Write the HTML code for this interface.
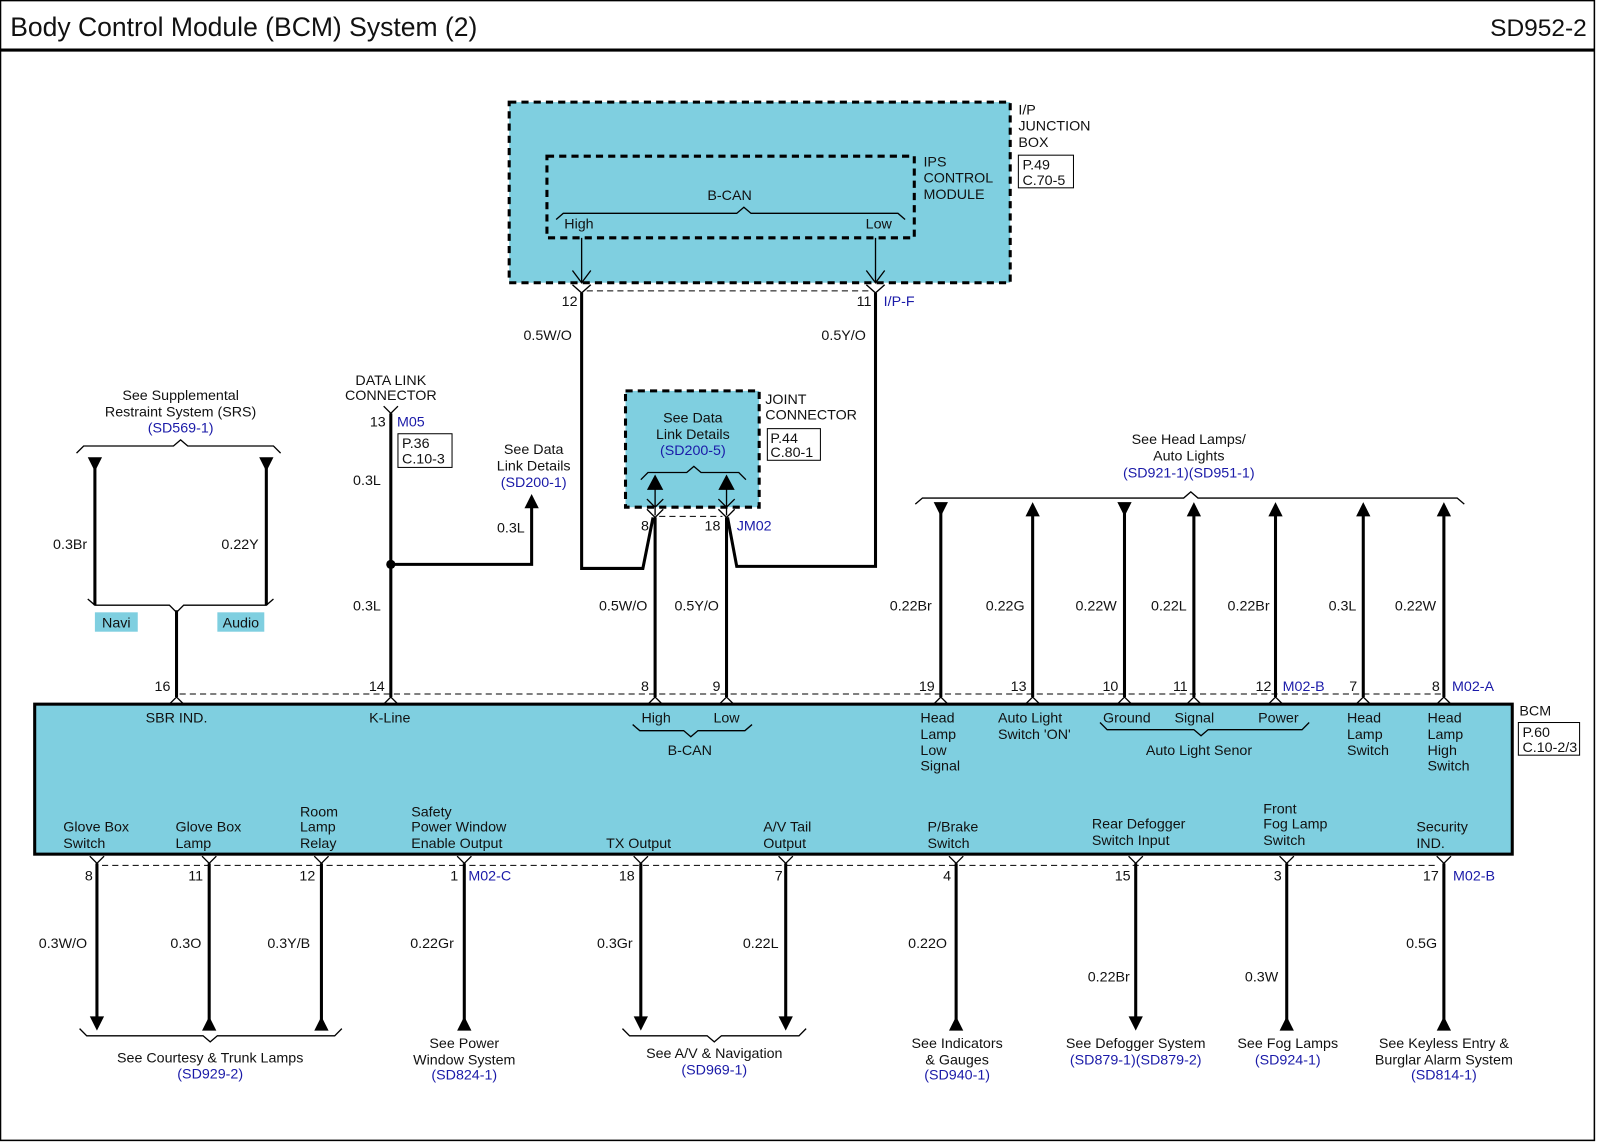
<!DOCTYPE html>
<html><head><meta charset="utf-8"><style>
html,body{margin:0;padding:0;background:#fff;}
svg{display:block;}
text{font-family:"Liberation Sans",Arial,sans-serif;font-size:14px;fill:#111;}
.b{fill:#1a1aa8;}
.m{text-anchor:middle;}
.e{text-anchor:end;}
.w{stroke:#000;stroke-width:3;fill:none;}
.t{stroke:#000;stroke-width:1.3;fill:none;}
.d{stroke:#000;stroke-width:1;fill:none;stroke-dasharray:6,4;}
</style></head><body>
<svg width="1600" height="1143" viewBox="0 0 1568 1120" xmlns="http://www.w3.org/2000/svg">
<rect x="0.5" y="0.5" width="1562" height="1117" fill="#fff" stroke="#000" stroke-width="1.5"/>
<text x="10" y="35" style="font-size:26px">Body Control Module (BCM) System (2)</text>
<text x="1555" y="35" class="e" style="font-size:24px">SD952-2</text>
<line x1="0" y1="49" x2="1563" y2="49" stroke="#000" stroke-width="3"/>

<!-- I/P junction box -->
<rect x="499" y="100" width="491" height="177" fill="#7fcfe0" stroke="#000" stroke-width="3" stroke-dasharray="7,5"/>
<rect x="536" y="153" width="360" height="80" fill="none" stroke="#000" stroke-width="3" stroke-dasharray="7,5"/>
<text x="715" y="196" class="m">B-CAN</text>
<path class="t" d="M545,215 L552,209 L722,209 L729,203 L736,209 L880,209 L887,215"/>
<text x="553" y="224">High</text><text x="874" y="224" class="e">Low</text>
<text x="998" y="112">I/P</text><text x="998" y="128">JUNCTION</text><text x="998" y="144">BOX</text>
<rect x="998" y="152" width="54" height="32" fill="#fff" stroke="#000"/>
<text x="1002" y="166">P.49</text><text x="1002" y="181">C.70-5</text>
<text x="905" y="163">IPS</text><text x="905" y="179">CONTROL</text><text x="905" y="195">MODULE</text>
<path class="t" d="M570,233 V277 M561,265 L570,277 L579,265 M858,233 V277 M849,265 L858,277 L867,265"/>
<path class="t" d="M561,279 L570,287 L579,279 M849,279 L858,287 L867,279"/>
<line class="d" x1="575" y1="285" x2="852" y2="285"/>
<text x="566" y="300" class="e">12</text><text x="854" y="300" class="e">11</text><text x="866" y="300" class="b">I/P-F</text>
<path class="w" d="M570,287 V557 H630 L640,507"/>
<path class="w" d="M858,287 V555 H722 L713,507"/>
<text x="513" y="333">0.5W/O</text><text x="805" y="333">0.5Y/O</text>

<!-- Joint connector -->
<rect x="613" y="383" width="131" height="114" fill="#7fcfe0" stroke="#000" stroke-width="3" stroke-dasharray="7,5"/>
<text x="679" y="414" class="m">See Data</text><text x="679" y="430" class="m">Link Details</text><text x="679" y="446" class="b m">(SD200-5)</text>
<path class="t" d="M628,470 L635,463 L673,463 L680,457 L687,463 L724,463 L731,470"/>
<path d="M642,465 L634,480 L650,480Z M712,465 L704,480 L720,480Z" fill="#000"/>
<path class="t" d="M642,478 V505 M634,489 L642,497 L650,489 M712,478 V505 M704,489 L712,497 L720,489 M634,499 L642,507 L650,499 M704,499 L712,507 L720,499"/>
<line class="d" x1="646" y1="506" x2="708" y2="506"/>
<text x="750" y="396">JOINT</text><text x="750" y="411">CONNECTOR</text>
<rect x="752" y="420" width="52" height="31" fill="#fff" stroke="#000"/>
<text x="755" y="434">P.44</text><text x="755" y="448">C.80-1</text>
<text x="636" y="520" class="e">8</text><text x="706" y="520" class="e">18</text><text x="722" y="520" class="b">JM02</text>
<path class="w" d="M642,507 V683 M712,507 V683"/>
<text x="587" y="598">0.5W/O</text><text x="661" y="598">0.5Y/O</text>

<!-- SRS -->
<text x="177" y="392" class="m">See Supplemental</text><text x="177" y="408" class="m">Restraint System (SRS)</text><text x="177" y="424" class="b m">(SD569-1)</text>
<path class="t" d="M75,444 L82,437 L170,437 L177,431 L184,437 L268,437 L275,444"/>
<path d="M86,448 L100,448 L93,462Z M254,448 L268,448 L261,462Z" fill="#000"/>
<path class="w" d="M93,455 V593 M261,455 V593"/>
<path class="t" d="M86,587 L93,593 L166,593 L173,600 L180,593 L261,593 L268,587"/>
<path class="w" d="M173,598 V683"/>
<text x="52" y="538">0.3Br</text><text x="217" y="538">0.22Y</text>
<rect x="93" y="600" width="42" height="19" fill="#7fcfe0"/><text x="114" y="615" class="m">Navi</text>
<rect x="213" y="600" width="46" height="19" fill="#7fcfe0"/><text x="236" y="615" class="m">Audio</text>

<!-- Data link -->
<text x="383" y="377" class="m">DATA LINK</text><text x="383" y="392" class="m">CONNECTOR</text>
<path class="t" d="M376,398 L383,405 L390,398"/>
<text x="378" y="418" class="e">13</text><text x="389" y="418" class="b">M05</text>
<rect x="390" y="425" width="53" height="33" fill="#fff" stroke="#000"/>
<text x="394" y="439">P.36</text><text x="394" y="454">C.10-3</text>
<path class="w" d="M383,405 V683 M383,553 H521 V497"/>
<circle cx="383" cy="553" r="4.5" fill="#000"/>
<path d="M521,484 L514,498 L528,498Z" fill="#000"/>
<text x="523" y="445" class="m">See Data</text><text x="523" y="461" class="m">Link Details</text><text x="523" y="477" class="b m">(SD200-1)</text>
<text x="346" y="475">0.3L</text><text x="487" y="522">0.3L</text><text x="346" y="598">0.3L</text>

<!-- Head lamps -->
<text x="1165" y="435" class="m">See Head Lamps/</text><text x="1165" y="451" class="m">Auto Lights</text><text x="1165" y="468" class="b m">(SD921-1)(SD951-1)</text>
<path class="t" d="M897,494 L904,488 L1160,488 L1167,482 L1174,488 L1428,488 L1435,494"/>
<path d="M915,492 L929,492 L922,506Z M1095,492 L1109,492 L1102,506Z" fill="#000"/>
<path d="M1012,492 L1005,506 L1019,506Z M1170,492 L1163,506 L1177,506Z M1250,492 L1243,506 L1257,506Z M1336,492 L1329,506 L1343,506Z M1415,492 L1408,506 L1422,506Z" fill="#000"/>
<path class="w" d="M922,500 V683 M1012,500 V683 M1102,500 V683 M1170,500 V683 M1250,500 V683 M1336,500 V683 M1415,500 V683"/>
<text x="872" y="598">0.22Br</text><text x="966" y="598">0.22G</text><text x="1054" y="598">0.22W</text><text x="1128" y="598">0.22L</text><text x="1203" y="598">0.22Br</text><text x="1302" y="598">0.3L</text><text x="1367" y="598">0.22W</text>

<!-- BCM -->
<line class="d" x1="176" y1="680" x2="1412" y2="680"/>
<rect x="34" y="690" width="1448" height="147" fill="#7fcfe0" stroke="#000" stroke-width="3"/>
<g class="t">
<path d="M166,690 L173,683 L180,690 M376,690 L383,683 L390,690 M635,690 L642,683 L649,690 M705,690 L712,683 L719,690 M915,690 L922,683 L929,690 M1005,690 L1012,683 L1019,690 M1095,690 L1102,683 L1109,690 M1163,690 L1170,683 L1177,690 M1243,690 L1250,683 L1257,690 M1329,690 L1336,683 L1343,690 M1408,690 L1415,683 L1422,690"/>
</g>
<text x="167" y="677" class="e">16</text><text x="377" y="677" class="e">14</text><text x="636" y="677" class="e">8</text><text x="706" y="677" class="e">9</text><text x="916" y="677" class="e">19</text><text x="1006" y="677" class="e">13</text><text x="1096" y="677" class="e">10</text><text x="1164" y="677" class="e">11</text><text x="1246" y="677" class="e">12</text><text x="1257" y="677" class="b">M02-B</text><text x="1330" y="677" class="e">7</text><text x="1411" y="677" class="e">8</text><text x="1423" y="677" class="b">M02-A</text>
<text x="173" y="708" class="m">SBR IND.</text><text x="382" y="708" class="m">K-Line</text>
<text x="643" y="708" class="m">High</text><text x="712" y="708" class="m">Low</text>
<path class="t" d="M620,710 L627,716 L670,716 L677,722 L684,716 L730,716 L737,710"/>
<text x="676" y="740" class="m">B-CAN</text>
<text x="902" y="708">Head</text><text x="902" y="724">Lamp</text><text x="902" y="740">Low</text><text x="902" y="755">Signal</text>
<text x="978" y="708">Auto Light</text><text x="978" y="724">Switch 'ON'</text>
<text x="1081" y="708">Ground</text><text x="1151" y="708">Signal</text><text x="1233" y="708">Power</text>
<path class="t" d="M1078,708 L1085,715 L1170,715 L1177,721 L1184,715 L1276,715 L1283,708"/>
<text x="1175" y="740" class="m">Auto Light Senor</text>
<text x="1320" y="708">Head</text><text x="1320" y="724">Lamp</text><text x="1320" y="740">Switch</text>
<text x="1399" y="708">Head</text><text x="1399" y="724">Lamp</text><text x="1399" y="740">High</text><text x="1399" y="755">Switch</text>
<text x="1489" y="701">BCM</text>
<rect x="1488" y="708" width="60" height="32" fill="#fff" stroke="#000"/>
<text x="1492" y="722">P.60</text><text x="1492" y="737">C.10-2/3</text>

<text x="62" y="815">Glove Box</text><text x="62" y="831">Switch</text>
<text x="172" y="815">Glove Box</text><text x="172" y="831">Lamp</text>
<text x="294" y="800">Room</text><text x="294" y="815">Lamp</text><text x="294" y="831">Relay</text>
<text x="403" y="800">Safety</text><text x="403" y="815">Power Window</text><text x="403" y="831">Enable Output</text>
<text x="594" y="831">TX Output</text>
<text x="748" y="815">A/V Tail</text><text x="748" y="831">Output</text>
<text x="909" y="815">P/Brake</text><text x="909" y="831">Switch</text>
<text x="1070" y="812">Rear Defogger</text><text x="1070" y="828">Switch Input</text>
<text x="1238" y="797">Front</text><text x="1238" y="812">Fog Lamp</text><text x="1238" y="828">Switch</text>
<text x="1388" y="815">Security</text><text x="1388" y="831">IND.</text>

<!-- bottom -->
<line class="d" x1="100" y1="848" x2="1410" y2="848"/>
<g class="t">
<path d="M88,839 L95,846 L102,839 M198,839 L205,846 L212,839 M308,839 L315,846 L322,839 M448,839 L455,846 L462,839 M621,839 L628,846 L635,839 M763,839 L770,846 L777,839 M930,839 L937,846 L944,839 M1106,839 L1113,846 L1120,839 M1254,839 L1261,846 L1268,839 M1408,839 L1415,846 L1422,839"/>
</g>
<text x="91" y="863" class="e">8</text><text x="199" y="863" class="e">11</text><text x="309" y="863" class="e">12</text><text x="449" y="863" class="e">1</text><text x="459" y="863" class="b">M02-C</text><text x="622" y="863" class="e">18</text><text x="767" y="863" class="e">7</text><text x="932" y="863" class="e">4</text><text x="1108" y="863" class="e">15</text><text x="1256" y="863" class="e">3</text><text x="1410" y="863" class="e">17</text><text x="1424" y="863" class="b">M02-B</text>
<path class="w" d="M95,846 V1000 M205,846 V1000 M315,846 V1000 M455,846 V1000 M628,846 V1000 M770,846 V1000 M937,846 V1000 M1113,846 V1000 M1261,846 V1000 M1415,846 V1000"/>
<path d="M88,996 L102,996 L95,1010Z M621,996 L635,996 L628,1010Z M763,996 L777,996 L770,1010Z M1106,996 L1120,996 L1113,1010Z" fill="#000"/>
<path d="M205,996 L198,1010 L212,1010Z M315,996 L308,1010 L322,1010Z M455,996 L448,1010 L462,1010Z M937,996 L930,1010 L944,1010Z M1261,996 L1254,1010 L1268,1010Z M1415,996 L1408,1010 L1422,1010Z" fill="#000"/>
<text x="38" y="929">0.3W/O</text><text x="167" y="929">0.3O</text><text x="262" y="929">0.3Y/B</text><text x="402" y="929">0.22Gr</text><text x="585" y="929">0.3Gr</text><text x="728" y="929">0.22L</text><text x="890" y="929">0.22O</text><text x="1066" y="962">0.22Br</text><text x="1220" y="962">0.3W</text><text x="1378" y="929">0.5G</text>
<path class="t" d="M78,1008 L85,1015 L199,1015 L206,1021 L213,1015 L328,1015 L335,1008"/>
<text x="206" y="1041" class="m">See Courtesy &amp; Trunk Lamps</text><text x="206" y="1057" class="b m">(SD929-2)</text>
<text x="455" y="1027" class="m">See Power</text><text x="455" y="1043" class="m">Window System</text><text x="455" y="1058" class="b m">(SD824-1)</text>
<path class="t" d="M610,1008 L617,1015 L693,1015 L700,1021 L707,1015 L783,1015 L790,1008"/>
<text x="700" y="1037" class="m">See A/V &amp; Navigation</text><text x="700" y="1053" class="b m">(SD969-1)</text>
<text x="938" y="1027" class="m">See Indicators</text><text x="938" y="1043" class="m">&amp; Gauges</text><text x="938" y="1058" class="b m">(SD940-1)</text>
<text x="1113" y="1027" class="m">See Defogger System</text><text x="1113" y="1043" class="b m">(SD879-1)(SD879-2)</text>
<text x="1262" y="1027" class="m">See Fog Lamps</text><text x="1262" y="1043" class="b m">(SD924-1)</text>
<text x="1415" y="1027" class="m">See Keyless Entry &amp;</text><text x="1415" y="1043" class="m">Burglar Alarm System</text><text x="1415" y="1058" class="b m">(SD814-1)</text>
</svg>
</body></html>
